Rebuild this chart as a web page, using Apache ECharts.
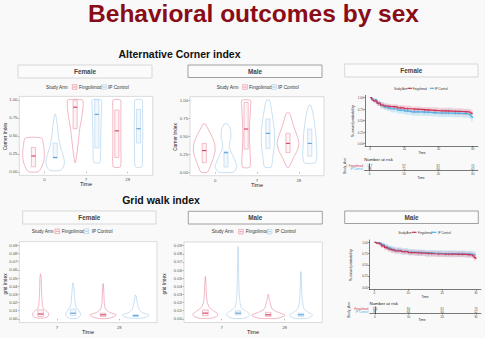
<!DOCTYPE html>
<html><head><meta charset="utf-8">
<script src="https://cdn.jsdelivr.net/npm/echarts@6.0.0/dist/echarts.min.js"></script>
<style>html,body{margin:0;padding:0;background:#f9f9f9}#c{width:485px;height:338px}</style>
</head><body><div id="c"></div>
<script>
// ---------------- DATA ----------------
const ARMS = ['Fingolimod', 'IP Control'];
const cornerTimes = ['0', '7', '28'];
const gridTimes = ['7', '28'];
const cornerTicks = [0, 0.25, 0.5, 0.75, 1];
const gridTicks = [0, 0.01, 0.02, 0.03, 0.04, 0.05, 0.06, 0.07, 0.08, 0.09];
const kmYTicks = [0, 0.25, 0.5, 0.75, 1];
const kmXTicks = [0, 10, 20, 30];

// violins: t = time index, a = arm index, y = value levels, w = relative density width, box = [q1, median, q3]
const cornerFemale = [
  {t:0,a:0,y:[0,0.05,0.15,0.25,0.35,0.47],w:[0.45,0.7,0.95,1,0.95,0.75],box:[0.07,0.22,0.34]},
  {t:0,a:1,y:[0.02,0.08,0.15,0.25,0.35,0.5,0.65,0.8],w:[0.5,0.8,0.85,0.7,0.48,0.3,0.2,0.04],box:[0.19,0.2,0.4]},
  {t:1,a:0,y:[0.13,0.3,0.5,0.6,0.75,0.9,1],w:[0.04,0.2,0.35,0.42,0.6,0.72,0.68],box:[0.6,0.9,1]},
  {t:1,a:1,y:[0.13,0.3,0.5,0.7,0.85,1],w:[0.28,0.35,0.36,0.4,0.42,0.42],box:[0.33,0.8,1]},
  {t:2,a:0,y:[0.07,0.3,0.6,0.85,1],w:[0.33,0.37,0.37,0.37,0.34],box:[0.2,0.57,0.86]},
  {t:2,a:1,y:[0.07,0.3,0.5,0.7,0.87,1],w:[0.3,0.36,0.39,0.39,0.36,0.33],box:[0.4,0.6,0.87]}
];
const cornerMale = [
  {t:0,a:0,y:[0,0.1,0.2,0.3,0.4,0.5,0.6,0.67],w:[0.3,0.6,0.85,1,0.95,0.7,0.35,0.1],box:[0.13,0.3,0.4]},
  {t:0,a:1,y:[0,0.08,0.2,0.35,0.5,0.6,0.67],w:[0.7,1,0.7,0.3,0.45,0.4,0.15],box:[0.07,0.27,0.29]},
  {t:1,a:0,y:[0.07,0.3,0.5,0.7,0.9,1],w:[0.35,0.35,0.3,0.33,0.4,0.4],box:[0.32,0.6,0.97]},
  {t:1,a:1,y:[0.07,0.2,0.4,0.55,0.7,0.85,1],w:[0.3,0.45,0.6,0.6,0.5,0.35,0.15],box:[0.33,0.54,0.74]},
  {t:2,a:0,y:[0.07,0.2,0.3,0.4,0.5,0.65,0.82],w:[0.1,0.5,0.85,1,0.85,0.5,0.15],box:[0.27,0.4,0.54]},
  {t:2,a:1,y:[0.13,0.25,0.4,0.55,0.7,0.85,0.93],w:[0.5,0.65,0.6,0.55,0.42,0.25,0.08],box:[0.22,0.4,0.6]}
];
const gridFemale = [
  {t:0,a:0,y:[0.001,0.003,0.006,0.009,0.012,0.016,0.02,0.03,0.04,0.05,0.055],w:[0.2,0.45,0.5,0.4,0.2,0.12,0.1,0.07,0.05,0.04,0.01],box:[0.003,0.006,0.011]},
  {t:0,a:1,y:[0.0005,0.003,0.006,0.01,0.014,0.02,0.03,0.04,0.044],w:[0.2,0.4,0.46,0.35,0.2,0.12,0.08,0.04,0.01],box:[0.004,0.007,0.012]},
  {t:1,a:0,y:[0.0005,0.003,0.005,0.008,0.012,0.02,0.03,0.043],w:[0.3,0.7,0.81,0.4,0.15,0.07,0.05,0.01],box:[0.003,0.005,0.007]},
  {t:1,a:1,y:[0.001,0.003,0.005,0.008,0.012,0.02,0.029],w:[0.4,0.75,0.81,0.4,0.2,0.1,0.02],box:[0.003,0.004,0.005]}
];
const gridMale = [
  {t:0,a:0,y:[0.0005,0.003,0.006,0.01,0.014,0.02,0.03,0.04,0.052],w:[0.3,0.7,0.76,0.5,0.25,0.12,0.06,0.04,0.01],box:[0.004,0.007,0.011]},
  {t:0,a:1,y:[0.0005,0.003,0.006,0.01,0.014,0.02,0.03,0.05,0.07,0.089],w:[0.3,0.65,0.7,0.45,0.2,0.12,0.07,0.04,0.03,0.01],box:[0.005,0.007,0.01]},
  {t:1,a:0,y:[0.0005,0.003,0.005,0.008,0.012,0.017,0.02,0.025,0.03],w:[0.5,0.95,1,0.6,0.25,0.15,0.12,0.05,0.01],box:[0.003,0.005,0.008]},
  {t:1,a:1,y:[0.0005,0.003,0.005,0.008,0.012,0.02,0.03,0.04,0.058],w:[0.35,0.65,0.7,0.45,0.2,0.1,0.06,0.04,0.01],box:[0.003,0.005,0.007]}
];

// Kaplan-Meier curves
const kmTimes = [0,0.5,1,2,3,4,5,6,8,10,12,15,18,20,24,27,29,29.5,30];
const femFingo   = [1,0.95,0.93,0.88,0.84,0.82,0.81,0.80,0.78,0.76,0.745,0.73,0.72,0.71,0.70,0.69,0.68,0.66,0.65];
const femFingoLo = [1,0.91,0.88,0.82,0.78,0.76,0.74,0.73,0.71,0.69,0.67,0.66,0.65,0.64,0.63,0.62,0.61,0.58,0.57];
const femFingoHi = [1,0.99,0.97,0.93,0.90,0.88,0.87,0.86,0.84,0.83,0.81,0.80,0.79,0.78,0.77,0.76,0.75,0.74,0.73];
const femCtrl    = [1,0.97,0.95,0.88,0.83,0.80,0.78,0.76,0.73,0.71,0.69,0.68,0.67,0.665,0.66,0.65,0.63,0.58,0.56];
const femCtrlLo  = [1,0.93,0.90,0.82,0.76,0.73,0.71,0.68,0.65,0.63,0.61,0.60,0.59,0.58,0.575,0.565,0.54,0.49,0.47];
const femCtrlHi  = [1,1,0.99,0.94,0.90,0.87,0.85,0.83,0.81,0.79,0.77,0.76,0.75,0.75,0.745,0.74,0.72,0.68,0.66];
const maleFingo   = [1,0.98,0.97,0.92,0.88,0.85,0.83,0.81,0.79,0.77,0.76,0.745,0.74,0.735,0.73,0.72,0.70,0.66,0.63];
const maleFingoLo = [1,0.95,0.93,0.87,0.82,0.79,0.77,0.75,0.73,0.71,0.70,0.68,0.675,0.67,0.665,0.655,0.63,0.59,0.55];
const maleFingoHi = [1,1,1,0.97,0.94,0.91,0.89,0.87,0.85,0.84,0.83,0.81,0.81,0.80,0.80,0.79,0.77,0.74,0.72];
const maleCtrl    = [1,0.99,0.98,0.95,0.90,0.87,0.84,0.82,0.80,0.78,0.77,0.76,0.755,0.75,0.745,0.74,0.73,0.725,0.72];
const maleCtrlLo  = [1,0.97,0.95,0.90,0.84,0.80,0.77,0.75,0.73,0.71,0.70,0.69,0.685,0.68,0.675,0.67,0.66,0.65,0.645];
const maleCtrlHi  = [1,1,1,0.99,0.96,0.93,0.91,0.89,0.87,0.85,0.84,0.83,0.825,0.82,0.815,0.81,0.80,0.80,0.795];
// censoring marks (times)
const censorTimes = [1.5,2.5,3.5,4.5,5.5,7,9,11,13,14,16,17,19,21,22,23,25,26,28];

// Number at risk
const riskTimes = [0, 10, 20, 30];
const femRiskFingo = [117, 97, 82, 74];
const femRiskCtrl = [98, 71, 60, 45];
const maleRiskFingo = [113, 84, 81, 73];
const maleRiskCtrl = [87, 66, 60, 52];

// ---------------- STYLE ----------------
const FONT = 'Liberation Sans, Arial, sans-serif';
const COL = [
  {line:'#e8879b', fill:'#fdf2f4', med:'#d63c5c', km:'#d22f50', band:'rgba(236,115,140,0.28)'},
  {line:'#a2cbeb', fill:'#f1f7fc', med:'#5a9ed8', km:'#4fb2e6', band:'rgba(105,195,240,0.28)'}
];
const DODGE = 0.26, VMAX = 0.26;

const chart = echarts.init(document.getElementById('c'), null, {renderer:'svg'});

const grids = [
  {left:19.3, top:96.4, width:133.4, height:79},     // 0 corner female
  {left:190, top:96.7, width:134, height:79},        // 1 corner male
  {left:365, top:95.4, width:112.8, height:50.6},    // 2 KM female
  {left:364.5, top:163.8, width:113.3, height:6.4},  // 3 risk female
  {left:19.3, top:241.6, width:137.6, height:81},    // 4 grid female
  {left:184, top:242, width:138.3, height:80.5},     // 5 grid male
  {left:369.3, top:240, width:111.6, height:49.6},   // 6 KM male
  {left:369.8, top:306.8, width:111.1, height:6.5}   // 7 risk male
].map((g, i) => Object.assign({
  show: [0,1,4,5].includes(i), borderColor:'#c4c4c4', borderWidth:0.6, backgroundColor:'#ffffff'
}, g));

function violinX(gi, labels) {
  const cv = labels.map((_, i) => i + 1);
  return {type:'value', gridIndex:gi, min:0.4, max:labels.length + 0.6,
    axisLine:{show:false}, splitLine:{show:false},
    axisTick:{show:true, length:1.5, customValues:cv, lineStyle:{color:'#777', width:0.5}},
    axisLabel:{fontSize:4.3, color:'#555', margin:2.5, fontFamily:FONT, customValues:cv,
      formatter: v => labels[Math.round(v) - 1]}};
}
function violinY(gi, min, max, ticks, digits) {
  return {type:'value', gridIndex:gi, min:min, max:max,
    axisLine:{show:false}, splitLine:{show:false},
    axisTick:{show:true, length:1.5, customValues:ticks, lineStyle:{color:'#777', width:0.5}},
    axisLabel:{fontSize:4.2, color:'#555', margin:2, fontFamily:FONT, customValues:ticks,
      formatter: v => v.toFixed(digits)}};
}
function kmX(gi) {
  return {type:'value', gridIndex:gi, min:-1.5, max:31.5, splitLine:{show:false},
    axisLine:{show:true, onZero:false, lineStyle:{color:'#222', width:0.6}},
    axisTick:{show:true, length:1.2, customValues:kmXTicks, lineStyle:{color:'#222', width:0.5}},
    axisLabel:{fontSize:2.9, color:'#444', margin:1.5, fontFamily:FONT, customValues:kmXTicks}};
}
function kmY(gi) {
  return {type:'value', gridIndex:gi, min:-0.05, max:1.05, splitLine:{show:false},
    axisLine:{show:true, onZero:false, lineStyle:{color:'#222', width:0.6}},
    axisTick:{show:true, length:1.2, customValues:kmYTicks, lineStyle:{color:'#222', width:0.5}},
    axisLabel:{fontSize:2.9, color:'#444', margin:1.5, fontFamily:FONT, customValues:kmYTicks,
      formatter: v => v.toFixed(2)}};
}
function riskY(gi) {
  return {type:'category', gridIndex:gi, data:ARMS, inverse:true,
    axisLine:{show:true, lineStyle:{color:'#222', width:0.6}}, axisTick:{show:false},
    axisLabel:{interval:0, hideOverlap:false, fontSize:2.9, margin:1.5, fontFamily:FONT,
      color:(v) => COL[ARMS.indexOf(v)].km}};
}

const xAxes = [violinX(0, cornerTimes), violinX(1, cornerTimes), kmX(2), kmX(3),
  violinX(4, gridTimes), violinX(5, gridTimes), kmX(6), kmX(7)];
const yAxes = [violinY(0, -0.05, 1.05, cornerTicks, 2), violinY(1, -0.05, 1.05, cornerTicks, 2), kmY(2), riskY(3),
  violinY(4, -0.0045, 0.0945, gridTicks, 2), violinY(5, -0.0045, 0.0945, gridTicks, 2), kmY(6), riskY(7)];

function violinSeries(list, ai, boxHalf) {
  return {type:'custom', xAxisIndex:ai, yAxisIndex:ai, silent:true, animation:false,
    data: list.map((v, i) => [v.t + 1 + (v.a === 0 ? -DODGE : DODGE), v.box[1], i]),
    renderItem: function (params, api) {
      const v = list[params.dataIndex];
      const cx = v.t + 1 + (v.a === 0 ? -DODGE : DODGE);
      const left = [], right = [];
      for (let k = 0; k < v.y.length; k++) {
        left.push(api.coord([cx - v.w[k] * VMAX, v.y[k]]));
        right.push(api.coord([cx + v.w[k] * VMAX, v.y[k]]));
      }
      const pts = left.concat(right.reverse());
      const c = COL[v.a];
      const b1 = api.coord([cx - boxHalf, v.box[2]]);
      const b2 = api.coord([cx + boxHalf, v.box[0]]);
      const m1 = api.coord([cx - boxHalf, v.box[1]]);
      const m2 = api.coord([cx + boxHalf, v.box[1]]);
      return {type:'group', children:[
        {type:'polygon', shape:{points:pts, smooth:0.2}, style:{fill:'none', stroke:c.line, lineWidth:0.6}},
        {type:'rect', shape:{x:b1[0], y:b1[1], width:b2[0]-b1[0], height:Math.max(b2[1]-b1[1], 0.5)},
          style:{fill:c.fill, stroke:c.line, lineWidth:0.5}},
        {type:'line', shape:{x1:m1[0], y1:m1[1], x2:m2[0], y2:m2[1]}, style:{stroke:c.med, lineWidth:1.1}}
      ]};
    }};
}
function bandSeries(ai, times, lo, hi, color) {
  return {type:'custom', xAxisIndex:ai, yAxisIndex:ai, silent:true, animation:false,
    data: times.map((t, i) => [t, lo[i], hi[i]]),
    renderItem: function (params, api) {
      if (params.dataIndex !== 0) return null;
      const up = [], dn = [];
      for (let i = 0; i < times.length; i++) {
        const xn = i < times.length - 1 ? times[i + 1] : times[i];
        up.push(api.coord([times[i], hi[i]]), api.coord([xn, hi[i]]));
        dn.push(api.coord([times[i], lo[i]]), api.coord([xn, lo[i]]));
      }
      return {type:'polygon', shape:{points:up.concat(dn.reverse())}, style:{fill:color}};
    }};
}
function kmLine(ai, times, s, color) {
  return {type:'line', xAxisIndex:ai, yAxisIndex:ai, step:'end', showSymbol:false, silent:true, animation:false,
    data: times.map((t, i) => [t, s[i]]), lineStyle:{color:color, width:1.2}, z:3};
}
function stepAt(times, s, t) {
  let v = s[0];
  for (let i = 0; i < times.length; i++) if (times[i] <= t) v = s[i];
  return v;
}
function censorSeries(ai, times, s, color) {
  return {type:'scatter', xAxisIndex:ai, yAxisIndex:ai, silent:true, animation:false, z:4,
    symbol:'path://M4,0H6V4H10V6H6V10H4V6H0V4H4Z', symbolSize:2.6,
    itemStyle:{color:color}, data: censorTimes.map(t => [t, stepAt(times, s, t)])};
}
function riskSeries(ai, fingo, ctrl) {
  const data = [];
  riskTimes.forEach((t, i) => { data.push([t, ARMS[0], fingo[i]]); data.push([t, ARMS[1], ctrl[i]]); });
  return {type:'scatter', xAxisIndex:ai, yAxisIndex:ai, symbolSize:1, silent:true, animation:false,
    itemStyle:{color:'rgba(0,0,0,0)'}, data:data,
    label:{show:true, position:'inside', fontSize:3.1, color:'#222', fontFamily:FONT, formatter:p => p.value[2]},
    labelLayout:{hideOverlap:false}};
}

const series = [
  violinSeries(cornerFemale, 0, 0.05), violinSeries(cornerMale, 1, 0.05),
  violinSeries(gridFemale, 4, 0.045), violinSeries(gridMale, 5, 0.045),
  bandSeries(2, kmTimes, femCtrlLo, femCtrlHi, COL[1].band), bandSeries(2, kmTimes, femFingoLo, femFingoHi, COL[0].band),
  kmLine(2, kmTimes, femCtrl, COL[1].km), kmLine(2, kmTimes, femFingo, COL[0].km),
  censorSeries(2, kmTimes, femCtrl, COL[1].km), censorSeries(2, kmTimes, femFingo, COL[0].km),
  bandSeries(6, kmTimes, maleCtrlLo, maleCtrlHi, COL[1].band), bandSeries(6, kmTimes, maleFingoLo, maleFingoHi, COL[0].band),
  kmLine(6, kmTimes, maleCtrl, COL[1].km), kmLine(6, kmTimes, maleFingo, COL[0].km),
  censorSeries(6, kmTimes, maleCtrl, COL[1].km), censorSeries(6, kmTimes, maleFingo, COL[0].km),
  riskSeries(3, femRiskFingo, femRiskCtrl), riskSeries(7, maleRiskFingo, maleRiskCtrl)
];

// ---------------- TEXT / DECORATION ----------------
const G = [];
function txt(x, y, s, size, o) {
  o = o || {};
  G.push({type:'text', x:x, y:y, rotation:o.rot || 0, z:10, silent:true,
    style:{text:s, fontSize:size, fontFamily:FONT, fontWeight:o.bold ? 'bold' : 'normal',
      fill:o.color || '#222', align:o.align || 'center', verticalAlign:'middle'}});
}
function strip(x1, y1, x2, y2, label, dark) {
  G.push({type:'rect', z:9, silent:true, shape:{x:x1, y:y1, width:x2-x1, height:y2-y1},
    style:{fill:'#fbfbfb', stroke:dark ? '#8a8a8a' : '#cfcfcf', lineWidth:0.8}});
  txt((x1+x2)/2, (y1+y2)/2, label, 6.4, {bold:true, color:'#444'});
}
function violinLegend(y, xs) {
  txt(xs[0], y, 'Study Arm', 4.7, {align:'left', color:'#333'});
  [0, 1].forEach(a => {
    const kx = xs[1 + a*2];
    G.push({type:'rect', z:10, silent:true, shape:{x:kx, y:y-2.3, width:4.6, height:4.6},
      style:{fill:COL[a].fill, stroke:COL[a].line, lineWidth:0.6}});
    G.push({type:'line', z:11, silent:true, shape:{x1:kx+0.8, y1:y, x2:kx+3.8, y2:y}, style:{stroke:COL[a].med, lineWidth:0.5}});
    txt(xs[2 + a*2], y, ARMS[a], 4.7, {align:'left', color:'#333'});
  });
}
function kmLegend(y, xs) {
  txt(xs[0], y, 'Study Arm', 2.9, {align:'left', color:'#333'});
  [0, 1].forEach(a => {
    const kx = xs[1 + a*2];
    G.push({type:'line', z:10, silent:true, shape:{x1:kx, y1:y, x2:kx+4.5, y2:y}, style:{stroke:COL[a].km, lineWidth:1.2}});
    txt(xs[2 + a*2], y, ARMS[a], 2.9, {align:'left', color:'#333'});
  });
}

txt(253.5, 13, 'Behavioral outcomes by sex', 24.5, {bold:true, color:'#8a0c16'});
txt(179.5, 54, 'Alternative Corner index', 10.5, {bold:true, color:'#111'});
txt(161, 200, 'Grid walk index', 10.5, {bold:true, color:'#111'});

strip(18, 65, 152, 78, 'Female', false);
strip(188, 65, 322, 77.5, 'Male', true);
strip(344.7, 64, 478, 77, 'Female', false);
strip(22.7, 211, 156, 224, 'Female', false);
strip(188.3, 211.3, 322.3, 224, 'Male', true);
strip(344.7, 211, 478.3, 223.5, 'Male', true);

violinLegend(87, [46, 72.3, 79, 101.7, 108]);
violinLegend(87, [216.7, 242.7, 249, 271.7, 278]);
violinLegend(231.3, [31.7, 55, 61.7, 84, 91.7]);
violinLegend(231.7, [211.7, 238.7, 245.7, 267.3, 275]);
kmLegend(88.3, [394, 407.5, 412.7, 429.8, 435]);
kmLegend(232.3, [398.3, 412, 418, 432, 438]);

// axis titles
txt(86, 184, 'Time', 5.5, {color:'#222'});
txt(257, 184.5, 'Time', 5.5, {color:'#222'});
txt(88, 331.5, 'Time', 5.5, {color:'#222'});
txt(253, 331.5, 'Time', 5.5, {color:'#222'});
txt(5, 136.5, 'Corner Index', 4.8, {rot:Math.PI/2, color:'#222'});
txt(175, 137, 'Corner Index', 4.8, {rot:Math.PI/2, color:'#222'});
txt(5, 284, 'grid Index', 4.8, {rot:Math.PI/2, color:'#222'});
txt(164.5, 284, 'grid Index', 4.8, {rot:Math.PI/2, color:'#222'});

txt(422, 152.5, 'Time', 3.2, {color:'#222'});
txt(352.7, 121, 'Survival probability', 3.8, {rot:Math.PI/2, color:'#222'});
txt(364.3, 159.7, 'Number at risk', 4.4, {align:'left', color:'#222'});
txt(421, 177.3, 'Time', 3.2, {color:'#222'});
txt(344.5, 166, 'Study_Arm', 3.2, {rot:Math.PI/2, color:'#222'});

txt(425, 296.3, 'Time', 3.2, {color:'#222'});
txt(350.5, 265, 'Survival probability', 3.8, {rot:Math.PI/2, color:'#222'});
txt(369.5, 303.5, 'Number at risk', 4.4, {align:'left', color:'#222'});
txt(422, 320, 'Time', 3.2, {color:'#222'});
txt(348.8, 310, 'Study_Arm', 3.2, {rot:Math.PI/2, color:'#222'});

chart.setOption({
  backgroundColor:'#f9f9f9', animation:false,
  grid:grids, xAxis:xAxes, yAxis:yAxes, series:series, graphic:G
});
</script></body></html>
